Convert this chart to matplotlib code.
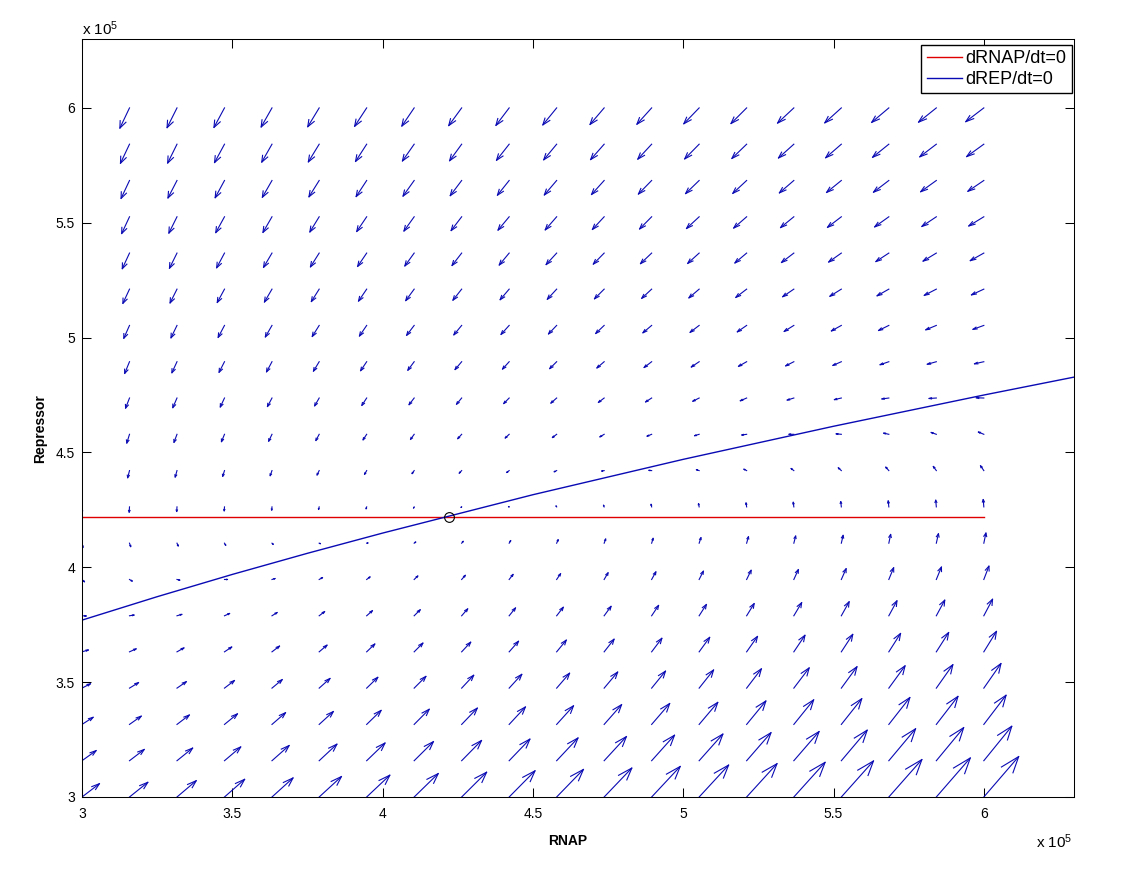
"""Phase plane of RNAP vs repressor: quiver field plus the two nullclines."""
import numpy as np
import matplotlib
matplotlib.use("Agg")
import matplotlib.pyplot as plt
from matplotlib.ticker import FormatStrFormatter

plt.rcParams["font.family"] = ["Liberation Sans", "DejaVu Sans"]
plt.rcParams["mathtext.default"] = "regular"

# all positions in units of 1e5 molecules
RNAP_GRID = [3.000, 3.158, 3.316, 3.474, 3.632, 3.789, 3.947, 4.105, 4.263, 4.421,
             4.579, 4.737, 4.895, 5.053, 5.211, 5.368, 5.526, 5.684, 5.842, 6.000]
REP_GRID = [3.000, 3.158, 3.316, 3.474, 3.632, 3.789, 3.947, 4.105, 4.263, 4.421,
            4.579, 4.737, 4.895, 5.053, 5.211, 5.368, 5.526, 5.684, 5.842, 6.000]

# drawn arrow components (units of 1e2 molecules); row = REP_GRID, column = RNAP_GRID
U_ARROW = [
    [58, 61, 64, 67, 70, 74, 77, 80, 83, 86, 89, 92, 95, 98, 101, 104, 107, 110, 113, 116],
    [47, 49, 52, 54, 57, 59, 61, 64, 66, 69, 71, 74, 76, 79, 81, 84, 86, 89, 91, 93],
    [37, 39, 41, 43, 45, 47, 48, 50, 52, 54, 56, 58, 60, 62, 64, 66, 68, 70, 72, 74],
    [28, 30, 31, 33, 34, 36, 37, 39, 40, 42, 43, 45, 46, 48, 49, 51, 52, 54, 55, 57],
    [21, 22, 23, 24, 25, 26, 27, 29, 30, 31, 32, 33, 34, 35, 36, 37, 38, 39, 41, 42],
    [14, 15, 16, 17, 17, 18, 19, 20, 20, 21, 22, 23, 23, 24, 25, 26, 26, 27, 28, 29],
    [8, 9, 9, 10, 10, 11, 11, 12, 12, 13, 13, 13, 14, 14, 15, 15, 16, 16, 17, 17],
    [3, 4, 4, 4, 4, 4, 4, 5, 5, 5, 5, 5, 5, 6, 6, 6, 6, 6, 7, 7],
    [-1, -1, -1, -1, -1, -2, -2, -2, -2, -2, -2, -2, -2, -2, -2, -2, -2, -2, -2, -2],
    [-5, -6, -6, -6, -6, -7, -7, -7, -8, -8, -8, -8, -9, -9, -9, -9, -10, -10, -10, -11],
    [-9, -9, -10, -10, -11, -11, -12, -12, -13, -13, -14, -14, -15, -15, -16, -16, -17, -17, -17, -18],
    [-12, -13, -14, -14, -15, -15, -16, -17, -17, -18, -19, -19, -20, -21, -21, -22, -23, -23, -24, -25],
    [-15, -16, -17, -18, -18, -19, -20, -21, -22, -22, -23, -24, -25, -26, -27, -27, -28, -29, -30, -31],
    [-18, -19, -20, -21, -22, -23, -24, -25, -26, -27, -27, -28, -29, -30, -31, -32, -33, -34, -35, -36],
    [-20, -22, -23, -24, -25, -26, -27, -28, -29, -30, -31, -32, -33, -34, -36, -37, -38, -39, -40, -41],
    [-23, -24, -25, -26, -28, -29, -30, -31, -32, -33, -35, -36, -37, -38, -39, -41, -42, -43, -44, -45],
    [-25, -26, -27, -29, -30, -31, -33, -34, -35, -37, -38, -39, -40, -42, -43, -44, -46, -47, -48, -50],
    [-27, -28, -30, -31, -32, -34, -35, -37, -38, -39, -41, -42, -44, -45, -46, -48, -49, -51, -52, -53],
    [-28, -30, -31, -33, -34, -36, -37, -39, -40, -42, -43, -45, -46, -48, -49, -51, -52, -54, -55, -57],
    [-30, -32, -33, -35, -36, -38, -40, -41, -43, -44, -46, -47, -49, -51, -52, -54, -55, -57, -59, -60],
]
V_ARROW = [
    [58, 64, 71, 77, 83, 89, 95, 102, 108, 114, 120, 126, 133, 139, 145, 151, 157, 163, 170, 176],
    [44, 49, 55, 60, 66, 72, 77, 83, 88, 94, 99, 105, 111, 116, 122, 127, 133, 139, 144, 150],
    [31, 36, 41, 46, 51, 56, 61, 66, 71, 76, 81, 86, 91, 96, 102, 107, 112, 117, 122, 127],
    [19, 24, 28, 33, 37, 42, 47, 51, 56, 60, 65, 70, 74, 79, 84, 88, 93, 97, 102, 107],
    [8, 13, 17, 21, 25, 29, 34, 38, 42, 46, 51, 55, 59, 63, 67, 72, 76, 80, 84, 89],
    [-1, 3, 6, 10, 14, 18, 22, 26, 30, 34, 37, 41, 45, 49, 53, 57, 61, 65, 68, 72],
    [-10, -7, -3, 0, 4, 8, 11, 15, 18, 22, 25, 29, 33, 36, 40, 43, 47, 51, 54, 58],
    [-19, -15, -12, -9, -5, -2, 1, 5, 8, 11, 15, 18, 21, 24, 28, 31, 34, 38, 41, 44],
    [-26, -23, -20, -17, -14, -11, -8, -5, -2, 1, 4, 7, 11, 14, 17, 20, 23, 26, 29, 32],
    [-33, -31, -28, -25, -22, -19, -16, -13, -11, -8, -5, -2, 1, 4, 6, 9, 12, 15, 18, 21],
    [-40, -38, -35, -32, -30, -27, -24, -22, -19, -16, -14, -11, -8, -6, -3, 0, 2, 5, 8, 10],
    [-47, -44, -42, -39, -37, -34, -32, -29, -27, -24, -22, -19, -17, -14, -12, -9, -7, -4, -2, 1],
    [-53, -51, -48, -46, -44, -41, -39, -37, -34, -32, -30, -27, -25, -23, -20, -18, -16, -13, -11, -9],
    [-59, -56, -54, -52, -50, -48, -46, -43, -41, -39, -37, -35, -32, -30, -28, -26, -24, -22, -19, -17],
    [-64, -62, -60, -58, -56, -54, -52, -50, -48, -46, -44, -42, -40, -38, -36, -33, -31, -29, -27, -25],
    [-70, -68, -66, -64, -62, -60, -58, -56, -54, -52, -50, -48, -46, -45, -43, -41, -39, -37, -35, -33],
    [-75, -73, -71, -69, -68, -66, -64, -62, -60, -58, -57, -55, -53, -51, -49, -47, -46, -44, -42, -40],
    [-80, -78, -76, -75, -73, -71, -70, -68, -66, -64, -63, -61, -59, -57, -56, -54, -52, -51, -49, -47],
    [-85, -83, -82, -80, -78, -77, -75, -73, -72, -70, -68, -67, -65, -64, -62, -60, -59, -57, -55, -54],
    [-90, -88, -86, -85, -83, -82, -80, -79, -77, -76, -74, -72, -71, -69, -68, -66, -65, -63, -62, -60],
]

# nullclines
RNAP_NULL_X = [3.0, 6.0]
RNAP_NULL_Y = [4.22, 4.22]
REP_NULL_X = [3.0, 3.25, 3.5, 3.75, 4.0, 4.5, 5.0, 5.5, 6.0, 6.3]
REP_NULL_Y = [3.770, 3.872, 3.969, 4.061, 4.149, 4.316, 4.470, 4.614, 4.750, 4.828]
FIXED_POINT = (4.22, 4.22)

W, H = 1138, 877
fig = plt.figure(figsize=(W / 100, H / 100), dpi=100)
ax = fig.add_axes([82 / W, 80 / H, 992 / W, 758 / H])

# quiver drawn like matlab: shaft + two head strokes, nan separated
X, Y = np.meshgrid(RNAP_GRID, REP_GRID)
U = np.array(U_ARROW, dtype=float) / 1000.0
V = np.array(V_ARROW, dtype=float) / 1000.0
a, b = 0.33, 0.33
nan = np.full(X.shape, np.nan)
sx = np.stack([X, X + U, nan], axis=-1).ravel()
sy = np.stack([Y, Y + V, nan], axis=-1).ravel()
hx = np.stack([X + U - a * (U + b * V), X + U, X + U - a * (U - b * V), nan], axis=-1).ravel()
hy = np.stack([Y + V - a * (V - b * U), Y + V, Y + V - a * (V + b * U), nan], axis=-1).ravel()
blue = "#0a0ab4"
ax.plot(sx, sy, color=blue, lw=0.8)
ax.plot(hx, hy, color=blue, lw=0.8)

ax.plot(RNAP_NULL_X, RNAP_NULL_Y, color="#e00000", lw=1.0, label="dRNAP/dt=0")
ax.plot(REP_NULL_X, REP_NULL_Y, color=blue, lw=1.0, label="dREP/dt=0")
ax.plot(*FIXED_POINT, "o", mfc="none", mec="black", ms=7, mew=0.8)

ax.set_xlim(3.0, 6.3)
ax.set_ylim(3.0, 6.3)
ax.set_xticks([3, 3.5, 4, 4.5, 5, 5.5, 6])
ax.set_yticks([3, 3.5, 4, 4.5, 5, 5.5, 6])
ax.xaxis.set_major_formatter(FormatStrFormatter("%g"))
ax.yaxis.set_major_formatter(FormatStrFormatter("%g"))
ax.tick_params(direction="in", length=6.5, width=0.75, top=True, right=True,
               labelsize=10, colors="black")
ax.tick_params(axis="x", pad=7)
ax.tick_params(axis="y", pad=5)
for s in ax.spines.values():
    s.set_linewidth(0.75)

ax.set_xlabel("RNAP", fontsize=10, fontweight="bold")
ax.set_ylabel("Repressor", fontsize=10, fontweight="bold")
ax.xaxis.set_label_coords(0.49, -0.049)
ax.yaxis.set_label_coords(-0.035, 0.486)

fig.text(82 / W, 1 - 35 / H, r"x 10$^{5}$", fontsize=11, ha="left", va="baseline")
fig.text(1072 / W, 1 - 848 / H, r"x 10$^{5}$", fontsize=11, ha="right", va="baseline")

ax.legend(loc="upper right", bbox_to_anchor=(1 - 2 / 992, 1 - 6 / 758), borderaxespad=0,
          fancybox=False, edgecolor="black", framealpha=1, fontsize=13,
          handlelength=1.95, handletextpad=0.2, borderpad=0.3, labelspacing=0.2)

fig.savefig("out.png", dpi=100, facecolor="white")
